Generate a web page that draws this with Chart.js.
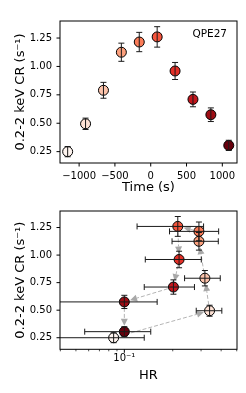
<!DOCTYPE html>
<html><head><meta charset="utf-8">
<script src="https://cdn.jsdelivr.net/npm/chart.js@4.4.1/dist/chart.umd.min.js"></script>
<style>
html,body{margin:0;padding:0;background:#fff;width:246px;height:393px;overflow:hidden}
.box{position:absolute;left:0;width:246px}
#b1{top:0;height:197px}
#b2{top:197px;height:196px}
canvas{display:block}
</style></head><body>
<div class="box" id="b1"><canvas id="c1"></canvas></div>
<div class="box" id="b2"><canvas id="c2"></canvas></div>
<script>
// ---- data ----
const timeSec = [-1160, -910, -660, -410, -160, 90, 340, 590, 840, 1090];
const rate    = [0.25, 0.495, 0.79, 1.125, 1.215, 1.26, 0.96, 0.71, 0.575, 0.305];
const rateErr = [0.045, 0.05, 0.07, 0.08, 0.085, 0.09, 0.075, 0.065, 0.06, 0.045];
const hr      = [0.0858, 0.339, 0.317, 0.291, 0.291, 0.215, 0.219, 0.202, 0.100, 0.100];
const hrLow   = [0.01, 0.28, 0.237, 0.198, 0.191, 0.12, 0.135, 0.133, 0.01, 0.0567];
const hrHigh  = [0.133, 0.404, 0.395, 0.384, 0.386, 0.311, 0.301, 0.273, 0.16, 0.146];
const timeTicks = [-1000, -500, 0, 500, 1000];
const rateTicks = [0.25, 0.5, 0.75, 1.0, 1.25];
const hrMajorTicks = [0.1];
const hrMinorTicks = [0.04, 0.05, 0.06, 0.07, 0.08, 0.09, 0.2, 0.3, 0.4, 0.5];
const hrTickLabels = {0.1: '10\u207B\u00B9'};
const panelLabel = 'QPE27';

// ---- style ----
const pointColors = ['#fff5f0','#fee2d5','#fcc3ab','#fca07d','#fb7c58','#f6553d','#e32f27','#c3161c','#9e0d14','#67000d'];
const FONT = "'DejaVu Sans', sans-serif";
Chart.defaults.font.family = FONT;
Chart.defaults.color = '#000';

function seg(ctx, x1, y1, x2, y2) { ctx.beginPath(); ctx.moveTo(x1, y1); ctx.lineTo(x2, y2); ctx.stroke(); }

const arrowPlugin = {
  id: 'arrows',
  beforeDatasetsDraw(chart, args, opts) {
    if (!opts.enabled) return;
    const ctx = chart.ctx, a = chart.chartArea;
    const els = chart.getDatasetMeta(0).data;
    ctx.save();
    ctx.beginPath(); ctx.rect(a.left, a.top, a.right - a.left, a.bottom - a.top); ctx.clip();
    for (let i = 0; i < els.length - 1; i++) {
      const x1 = els[i].x, y1 = els[i].y, x2 = els[i + 1].x, y2 = els[i + 1].y;
      const dx = x2 - x1, dy = y2 - y1, len = Math.hypot(dx, dy);
      if (len < 1) continue;
      const ux = dx / len, uy = dy / len;
      const shrink = 6, head = 7, hw = 3.5;
      const tx = x2 - ux * shrink, ty = y2 - uy * shrink;
      const bx = tx - ux * head, by = ty - uy * head;
      if (len > shrink + head) {
        ctx.strokeStyle = '#b4b4b4'; ctx.lineWidth = 1; ctx.setLineDash([4, 2]);
        seg(ctx, x1, y1, bx, by);
      }
      ctx.setLineDash([]);
      ctx.fillStyle = '#a8a8a8';
      ctx.beginPath();
      ctx.moveTo(tx, ty);
      ctx.lineTo(bx - uy * hw, by + ux * hw);
      ctx.lineTo(bx + uy * hw, by - ux * hw);
      ctx.closePath(); ctx.fill();
    }
    ctx.restore();
  }
};

const errPlugin = {
  id: 'errbars',
  afterDatasetsDraw(chart, args, opts) {
    const {ctx, chartArea: a, scales: {x, y}} = chart;
    const data = chart.data.datasets[0].data;
    ctx.save();
    ctx.beginPath(); ctx.rect(a.left, a.top, a.right - a.left, a.bottom - a.top); ctx.clip();
    ctx.strokeStyle = '#1a1a1a'; ctx.lineWidth = 1;
    const cap = 3;
    data.forEach((p, i) => {
      const px = x.getPixelForValue(p.x), py = y.getPixelForValue(p.y);
      if (opts.yErr) {
        const y1 = y.getPixelForValue(p.y - opts.yErr[i]), y2 = y.getPixelForValue(p.y + opts.yErr[i]);
        seg(ctx, px, y1, px, y2); seg(ctx, px - cap, y1, px + cap, y1); seg(ctx, px - cap, y2, px + cap, y2);
      }
      if (opts.xLo) {
        const x1 = x.getPixelForValue(opts.xLo[i]), x2 = x.getPixelForValue(opts.xHi[i]);
        seg(ctx, x1, py, x2, py); seg(ctx, x1, py - cap, x1, py + cap); seg(ctx, x2, py - cap, x2, py + cap);
      }
    });
    ctx.restore();
  }
};

const framePlugin = {
  id: 'frame',
  afterDatasetsDraw(chart, args, opts) {
    const {ctx, chartArea: a, scales: {x, y}} = chart;
    ctx.save();
    ctx.strokeStyle = '#000'; ctx.lineWidth = 1;
    ctx.strokeRect(a.left, a.top, a.right - a.left, a.bottom - a.top);
    (opts.xMajor || []).forEach(v => { const p = x.getPixelForValue(v); seg(ctx, p, a.bottom, p, a.bottom + 3.5); });
    ctx.lineWidth = 0.7;
    (opts.xMinor || []).forEach(v => { const p = x.getPixelForValue(v); seg(ctx, p, a.bottom, p, a.bottom + 2); });
    ctx.lineWidth = 1;
    (opts.yMajor || []).forEach(v => { const p = y.getPixelForValue(v); seg(ctx, a.left - 3.5, p, a.left, p); });
    if (opts.label) {
      ctx.fillStyle = '#000';
      ctx.font = '10.5px ' + FONT;
      ctx.textAlign = 'right'; ctx.textBaseline = 'middle';
      ctx.fillText(opts.label, a.right - 10, a.top + 13);
    }
    ctx.restore();
  }
};

function yAxis(min, max) {
  return {
    type: 'linear', min, max, bounds: 'data',
    grid: {display: false, drawTicks: false}, border: {display: false},
    afterBuildTicks: s => { s.ticks = rateTicks.map(v => ({value: v})); },
    afterFit: s => { s.width = 60; },
    ticks: {font: {size: 10}, padding: 8, callback: v => Number(v).toFixed(2)},
    title: {display: true, text: '0.2-2 keV CR (s\u207B\u00B9)', font: {size: 13}, padding: {top: 13, bottom: 0}}
  };
}

const common = {
  responsive: true, maintainAspectRatio: false, animation: false,
  events: [],
  elements: {point: {radius: 5, borderWidth: 1, borderColor: '#000', pointStyle: 'circle'}},
};

new Chart(document.getElementById('c1'), {
  type: 'scatter',
  data: {datasets: [{data: timeSec.map((t, i) => ({x: t, y: rate[i]})), backgroundColor: pointColors, borderColor: '#000'}]},
  options: Object.assign({}, common, {
    layout: {padding: {top: 21, right: 9, left: 0, bottom: 0}},
    plugins: {legend: {display: false}, tooltip: {enabled: false},
      errbars: {yErr: rateErr},
      frame: {xMajor: timeTicks, yMajor: rateTicks, label: panelLabel}},
    scales: {
      x: {type: 'linear', min: -1267, max: 1205, bounds: 'data',
        grid: {display: false, drawTicks: false}, border: {display: false},
        afterBuildTicks: s => { s.ticks = timeTicks.map(v => ({value: v})); },
        afterFit: s => { s.height = 34; },
        ticks: {font: {size: 10}, padding: 7, maxRotation: 0, autoSkip: false,
          callback: v => (v < 0 ? '\u2212' + Math.abs(v) : String(v))},
        title: {display: true, text: 'Time (s)', font: {size: 13}, padding: {top: 0, bottom: 2}}},
      y: yAxis(0.15, 1.40)
    }
  }),
  plugins: [errPlugin, framePlugin]
});

new Chart(document.getElementById('c2'), {
  type: 'scatter',
  data: {datasets: [{data: hr.map((h, i) => ({x: h, y: rate[i]})), backgroundColor: pointColors, borderColor: '#000'}]},
  options: Object.assign({}, common, {
    layout: {padding: {top: 9.7, right: 9, left: 0, bottom: 0}},
    plugins: {legend: {display: false}, tooltip: {enabled: false},
      arrows: {enabled: true},
      errbars: {yErr: rateErr, xLo: hrLow, xHi: hrHigh},
      frame: {xMajor: hrMajorTicks, xMinor: hrMinorTicks, yMajor: rateTicks}},
    scales: {
      x: {type: 'logarithmic', min: 0.0398, max: 0.502, bounds: 'data',
        grid: {display: false, drawTicks: false}, border: {display: false},
        afterBuildTicks: s => { s.ticks = hrMajorTicks.map(v => ({value: v})); },
        afterFit: s => { s.height = 43.7; },
        ticks: {font: {size: 10}, padding: 3, maxRotation: 0, autoSkip: false,
          callback: v => hrTickLabels[v] || ''},
        title: {display: true, text: 'HR', font: {size: 13}, padding: {top: 0, bottom: 9.7}}},
      y: yAxis(0.145, 1.40)
    }
  }),
  plugins: [arrowPlugin, errPlugin, framePlugin]
});
</script>
</body></html>
